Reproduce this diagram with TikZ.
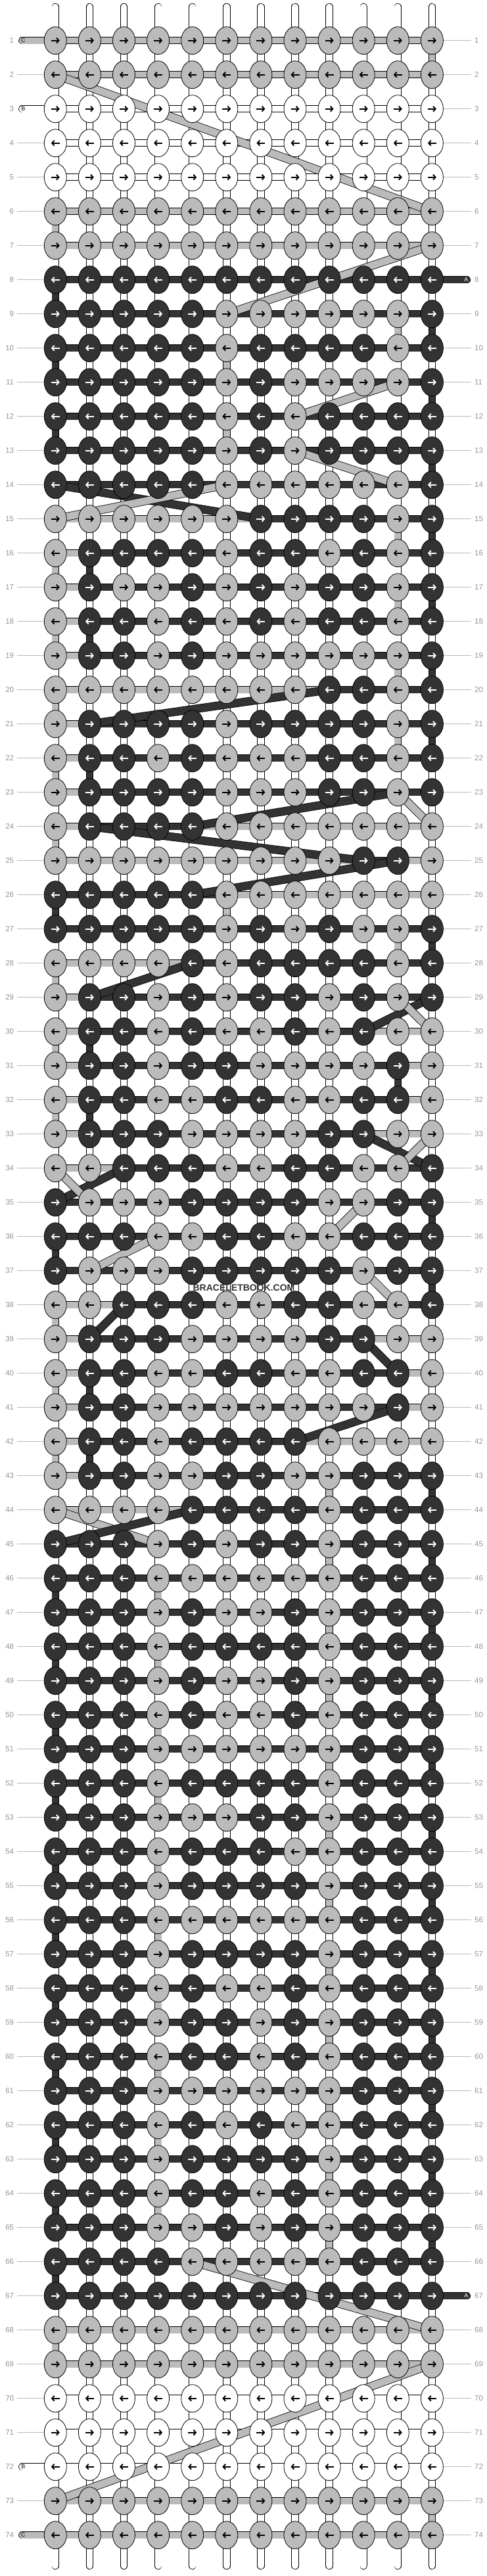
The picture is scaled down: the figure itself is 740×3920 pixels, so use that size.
\documentclass[tikz,border=0pt]{standalone}
\usepackage{fontspec}
\setmainfont{Liberation Sans}
\usetikzlibrary{shapes.geometric,arrows.meta}
\definecolor{cD}{RGB}{51,51,51}
\definecolor{cL}{RGB}{187,187,187}
\definecolor{cW}{RGB}{255,255,255}
\definecolor{lblgray}{RGB}{150,150,150}
\definecolor{linegray}{RGB}{185,185,185}

\tikzset{
  knot/.style={ellipse, draw=black, line width=0.8pt, minimum width=34pt, minimum height=42pt, inner sep=0pt},
  knotarrow/.style={line width=1.9pt, -{Straight Barb[length=3.6pt, width=8pt]}},
  rowlbl/.style={font=\fontsize{11.5}{12}\selectfont, text=lblgray, inner sep=0pt},
  lblline/.style={draw=linegray, line width=0.9pt},
}

\newcount\kc
\def\knotiter#1{\ifx#1\relax\else\global\advance\kc by 1\relax\edef\cc{\the\kc}\drawknot#1\expandafter\knotiter\fi}
\def\drawknot#1{%
  \node[knot, fill=c#1] (k-\rowR-\cc) at (p-\rowR-\cc) {};
  \ifx#1D\def\arrcol{white}\else\def\arrcol{black}\fi
  \ifodd\rowR\relax
    \draw[knotarrow, \arrcol] ([xshift=-6.5pt]k-\rowR-\cc.center) -- ([xshift=6.5pt]k-\rowR-\cc.center);
  \else
    \draw[knotarrow, \arrcol] ([xshift=6.5pt]k-\rowR-\cc.center) -- ([xshift=-6.5pt]k-\rowR-\cc.center);
  \fi}
\def\segiter#1{\ifx#1\relax\else\global\advance\kc by 1\relax\edef\cc{\the\kc}\edef\ccn{\the\numexpr\kc+1\relax}\drawseg#1\expandafter\segiter\fi}
\def\drawseg#1{%
  \draw[line width=11.2pt, black] (p-\rowR-\cc) -- (p-\rowR-\ccn);
  \draw[line width=9.6pt, c#1] (p-\rowR-\cc) -- (p-\rowR-\ccn);}
\newcommand\diagband[5]{%
  \draw[line width=12.6pt, black] (p-#1-#2) -- (p-#3-#4);
  \draw[line width=11pt, #5] (p-#1-#2) -- (p-#3-#4);}
\newcommand\entryL[3]{%
  \coordinate (en-#1) at ([xshift=-50.5pt]p-#1-1);
  \draw[line width=11.4pt, black, line cap=round] (en-#1) -- (p-#1-1);
  \draw[line width=9.8pt, #2, line cap=round] (en-#1) -- (p-#1-1);
  \node[font=\fontsize{9}{9}\selectfont, inner sep=0pt] (enl-#1) at ([xshift=1.5pt]en-#1) {#3};}
\newcommand\exitR[3]{%
  \coordinate (ex-#1) at ([xshift=53pt]p-#1-12);
  \draw[line width=11.4pt, black, line cap=round] (p-#1-12) -- (ex-#1);
  \draw[line width=9.8pt, #2, line cap=round] (p-#1-12) -- (ex-#1);
  \node[font=\fontsize{9}{9}\selectfont, inner sep=0pt, text=white] (exl-#1) at ([xshift=-1pt]ex-#1) {#3};}

\def\rowdata{%
1/LLLLLLLLLLLL/LLLLLLLLLLL,%
2/LLLLLLLLLLLL/LLLLLLLLLLL,%
3/WWWWWWWWWWWW/WWWWWWWWWWW,%
4/WWWWWWWWWWWW/WWWWWWWWWWW,%
5/WWWWWWWWWWWW/WWWWWWWWWWW,%
6/LLLLLLLLLLLL/LLLLLLLLLLL,%
7/LLLLLLLLLLLL/LLLLLLLLLLL,%
8/DDDDDDDDDDDD/DDDDDDDDDDD,%
9/DDDDDLLLLLLD/DDDDDDDDDDD,%
10/DDDDDLDDDDLD/DDDDDDDDDDD,%
11/DDDDDLDLLLLD/DDDDDDDDDDD,%
12/DDDDDLDLDDDD/DDDDDDDDDDD,%
13/DDDDDLDLDDDD/DDDDDDDDDDD,%
14/DDDDDLLLLLLD/DDDDDDDDDDD,%
15/LLLLLLDDDDLD/LLLLLLDDDDD,%
16/LDDDDLDDLDLD/LDDDDDDDDDD,%
17/LDLLDLDLDDLD/LDDDDDDDDDD,%
18/LDDLDLDLDDLD/LDDDDDDDDDD,%
19/LDDLDLLLLLLD/LDDDDDDDDDD,%
20/LLLLLLLLDDLD/LLLLLLLLDDD,%
21/LDDDDLDDDDLD/LDDDDDDDDDD,%
22/LDDLDLLLDDLD/LDDDDDDDDDD,%
23/LDDDDLLLDDLD/LDDDDDDDDDD,%
24/LDDDDLLLLLLL/LDDDLLLLLLL,%
25/LLLLLLLLLDDL/LLLLLLLLLDL,%
26/DDDDDLLLLLLL/DDDDDLLLLLL,%
27/DDDDDLDLDLLD/DDDDDDDDDDD,%
28/LLLLDLDDDDLD/LLLLDDDDDDD,%
29/LDDLDLDDLDLD/LDDDDDDDDDD,%
30/LDDLDLLDLDLL/LDDDDDDDDLL,%
31/LDDLDDLLLLDL/LDDDDDDDDDL,%
32/LDDLLDDLLDDL/LDDDDDDDDDL,%
33/LDDDLLLLDDLL/LDDDDDDDDLL,%
34/LLDDDLLDDLLD/LLDDDDDDDDD,%
35/DLLLDDDDLLDD/DDDDDDDDDDD,%
36/DDDLLDDLLDDD/DDDDDDDDDDD,%
37/DLLLDDDDDLDD/DDDDDDDDDDD,%
38/LLDDDLLDDLLD/LLDDDDDDDDD,%
39/LDDDLLLLDDLL/LDDDDDDDDLL,%
40/LDDLLDDLLDDL/LDDDDDDDDDL,%
41/LDDLLLLLLLDL/LDDDDDDDDDL,%
42/LDDLDDDDLLLL/LDDDDDDLLLL,%
43/LDDLLDDLLDDD/LDDDDDDDDDD,%
44/LLLLDDDDLDDD/LLLLDDDDDDD,%
45/DDDLDLDDLDDD/DDDDDDDDDDD,%
46/DDDLLLLLLDDD/DDDDDDDDDDD,%
47/DDDLDLLDLDDD/DDDDDDDDDDD,%
48/DDDLDDDDLDDD/DDDDDDDDDDD,%
49/DDDLDLLDLDDD/DDDDDDDDDDD,%
50/DDDLDLLDLDDD/DDDDDDDDDDD,%
51/DDDLLLLLLDDD/DDDDDDDDDDD,%
52/DDDLDDDDLDDD/DDDDDDDDDDD,%
53/DDDLLLDDLDDD/DDDDDDDDDDD,%
54/DDDLDDDLLDDD/DDDDDDDDDDD,%
55/DDDLDDDDLDDD/DDDDDDDDDDD,%
56/DDDLLLLLLDDD/DDDDDDDDDDD,%
57/DDDLDDDDLDDD/DDDDDDDDDDD,%
58/DDDLDLLDLDDD/DDDDDDDDDDD,%
59/DDDLDDLDLDDD/DDDDDDDDDDD,%
60/DDDLDDLDLDDD/DDDDDDDDDDD,%
61/DDDLLLLLLDDD/DDDDDDDDDDD,%
62/DDDLDLDLLDDD/DDDDDDDDDDD,%
63/DDDLDDDDLDDD/DDDDDDDDDDD,%
64/DDDLDDLDLDDD/DDDDDDDDDDD,%
65/DDDLLDLDLDDD/DDDDDDDDDDD,%
66/DDDDLLLLLDDD/DDDDDDDDDDD,%
67/DDDDDDDDDDDD/DDDDDDDDDDD,%
68/LLLLLLLLLLLL/LLLLLLLLLLL,%
69/LLLLLLLLLLLL/LLLLLLLLLLL,%
70/WWWWWWWWWWWW/WWWWWWWWWWW,%
71/WWWWWWWWWWWW/WWWWWWWWWWW,%
72/WWWWWWWWWWWW/WWWWWWWWWWW,%
73/LLLLLLLLLLLL/LLLLLLLLLLL,%
74/LLLLLLLLLLLL/LLLLLLLLLLL}

\begin{document}
\begin{tikzpicture}[x=1pt,y=-1pt]
\useasboundingbox (0,0) rectangle (740,3920);
\fill[white] (0,0) rectangle (740,3920);

% grid coordinates
\foreach \r in {1,...,74}{\foreach \c in {1,...,12}{\coordinate (p-\r-\c) at ({84.3+52.1*(\c-1)},{61.7+52*(\r-1)});}}

% base (vertical) strings
\foreach \c in {1,...,12}{
  \coordinate (t-\c) at ({84.3+52.1*(\c-1)},10.5);
  \coordinate (b-\c) at ({84.3+52.1*(\c-1)},3904.5);
  \draw[line width=11.4pt, line cap=round, black] (t-\c) -- (b-\c);
  \draw[line width=9.8pt, line cap=round, white] (t-\c) -- (b-\c);
}

% coloured vertical passages between rows
\foreach \r/\c/\col in {1/12/cL,6/1/cL,8/1/cD,9/11/cL,9/12/cD,10/1/cD,10/6/cL,11/12/cD,12/1/cD,12/6/cL,13/12/cD,
  15/11/cL,15/12/cD,16/1/cL,16/2/cD,17/11/cL,17/12/cD,18/1/cL,18/2/cD,19/11/cL,19/12/cD,20/1/cL,
  21/11/cL,21/12/cD,22/1/cL,22/2/cD,24/1/cL,26/1/cD,26/6/cL,27/11/cL,27/12/cD,28/1/cL,30/1/cL,30/2/cD,
  31/11/cD,32/1/cL,32/2/cD,35/12/cD,36/1/cD,37/12/cD,38/1/cL,40/1/cL,40/2/cD,42/1/cL,42/2/cD,
  43/9/cL,43/12/cD,45/9/cL,45/12/cD,46/1/cD,46/4/cL,47/9/cL,47/12/cD,48/1/cD,48/4/cL,49/9/cL,49/12/cD,
  50/1/cD,50/4/cL,51/9/cL,51/12/cD,52/1/cD,52/4/cL,53/9/cL,53/12/cD,54/1/cD,54/4/cL,55/9/cL,55/12/cD,
  56/1/cD,56/4/cL,57/9/cL,57/12/cD,58/1/cD,58/4/cL,59/9/cL,59/12/cD,60/1/cD,60/4/cL,61/9/cL,61/12/cD,
  62/1/cD,62/4/cL,63/9/cL,63/12/cD,64/1/cD,64/4/cL,65/9/cL,65/12/cD,66/1/cD,68/1/cL,73/12/cL}{
  \pgfmathtruncatemacro\rn{\r+1}
  \draw[line width=11.4pt, black] (p-\r-\c) -- (p-\rn-\c);
  \draw[line width=9.8pt, \col] (p-\r-\c) -- (p-\rn-\c);
}

% working strings between knots
\foreach \rowi/\kstr/\sstr in \rowdata {\edef\rowR{\rowi}\global\kc=0 \edef\tmp{\sstr}\expandafter\segiter\tmp\relax}

% strings entering / leaving
\entryL{1}{cL}{C}
\entryL{3}{cW}{B}
\entryL{72}{cW}{B}
\entryL{74}{cL}{C}
\exitR{8}{cD}{A}
\exitR{67}{cD}{A}

% carried strings
\diagband{2}{1}{6}{12}{cL}
\diagband{7}{12}{9}{6}{cL}
\diagband{11}{11}{12}{8}{cL}
\diagband{13}{8}{14}{11}{cL}
\diagband{14}{1}{15}{7}{cD}
\diagband{15}{1}{14}{6}{cL}
\diagband{21}{2}{20}{9}{cD}
\diagband{23}{11}{24}{5}{cD}
\diagband{23}{11}{24}{12}{cL}
\diagband{24}{2}{25}{10}{cD}
\diagband{25}{11}{26}{5}{cD}
\diagband{29}{2}{28}{5}{cD}
\diagband{29}{12}{30}{10}{cD}
\diagband{29}{11}{30}{12}{cL}
\diagband{33}{10}{34}{12}{cD}
\diagband{33}{12}{34}{11}{cL}
\diagband{35}{1}{34}{3}{cD}
\diagband{34}{1}{35}{2}{cL}
\diagband{35}{10}{36}{9}{cL}
\diagband{36}{4}{37}{2}{cL}
\diagband{37}{10}{38}{11}{cL}
\diagband{38}{3}{39}{2}{cD}
\diagband{39}{10}{40}{11}{cD}
\diagband{41}{11}{42}{8}{cD}
\diagband{44}{1}{45}{4}{cL}
\diagband{45}{1}{44}{5}{cD}
\diagband{66}{5}{68}{12}{cL}
\diagband{69}{12}{73}{1}{cL}

% knots
\foreach \rowi/\kstr/\sstr in \rowdata {\edef\rowR{\rowi}\global\kc=0 \edef\tmp{\kstr}\expandafter\knotiter\tmp\relax}

% row numbers and guide lines
\foreach \r in {1,...,74}{
  \node[rowlbl, anchor=east] (ln-\r) at ([xshift=-63pt]p-\r-1) {\r};
  \node[rowlbl, anchor=west] (rn-\r) at ([xshift=64.5pt]p-\r-12) {\r};
}
\foreach \r in {2,4,5,...,71,73}{
  \draw[lblline] ([xshift=-58pt]p-\r-1) -- (k-\r-1.west);
}
\foreach \r in {1,...,7,9,10,...,66,68,69,...,74}{
  \draw[lblline] (k-\r-12.east) -- ([xshift=59.5pt]p-\r-12);
}

% watermark
\node[font=\bfseries\fontsize{14}{14}\selectfont, text=cD, inner sep=0pt] (wm) at (371,1960) {BRACELETBOOK.COM};
\end{tikzpicture}
\end{document}
